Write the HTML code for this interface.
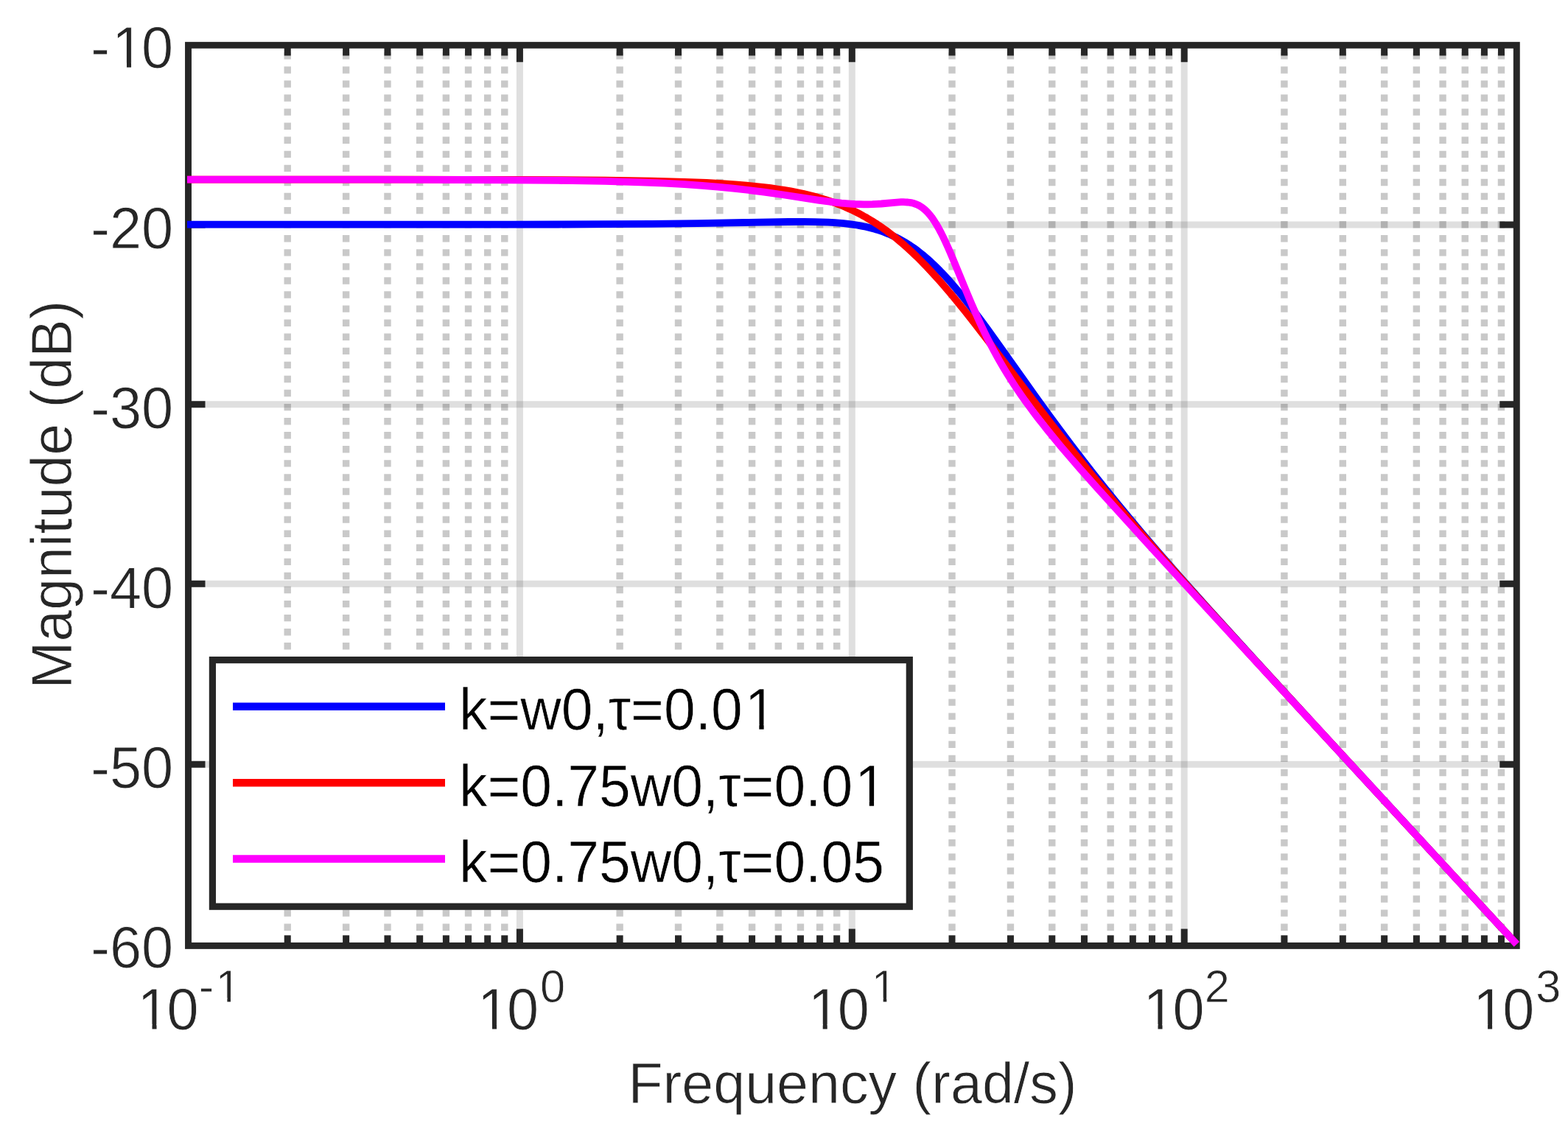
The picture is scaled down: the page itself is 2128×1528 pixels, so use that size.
<!DOCTYPE html>
<html lang="en">
<head>
<meta charset="utf-8">
<title>Bode magnitude plot</title>
<style>
html,body{margin:0;padding:0;background:#fff;}
body{width:2128px;height:1528px;overflow:hidden;}
svg{display:block;}
text{font-family:"Liberation Sans",sans-serif;}
.thin{stroke:#fff;stroke-width:0.8px;stroke-linejoin:round;paint-order:fill stroke;}
.leg{stroke:#fff;stroke-width:0.6px;stroke-linejoin:round;paint-order:fill stroke;}
</style>
</head>
<body>
<svg role="img" aria-label="Bode magnitude plot" width="2128" height="1528" viewBox="0 0 2128 1528">
<rect width="2128" height="1528" fill="#fff"/>
<g id="minor-grid" stroke="#262626" stroke-opacity="0.25" stroke-width="9.4" stroke-dasharray="9.4 9.67" fill="none">
<line x1="390.23" y1="1262.9" x2="390.23" y2="61.3"/>
<line x1="469.63" y1="1262.9" x2="469.63" y2="61.3"/>
<line x1="525.97" y1="1262.9" x2="525.97" y2="61.3"/>
<line x1="569.67" y1="1262.9" x2="569.67" y2="61.3"/>
<line x1="605.37" y1="1262.9" x2="605.37" y2="61.3"/>
<line x1="635.55" y1="1262.9" x2="635.55" y2="61.3"/>
<line x1="661.7" y1="1262.9" x2="661.7" y2="61.3"/>
<line x1="684.77" y1="1262.9" x2="684.77" y2="61.3"/>
<line x1="841.13" y1="1262.9" x2="841.13" y2="61.3"/>
<line x1="920.53" y1="1262.9" x2="920.53" y2="61.3"/>
<line x1="976.87" y1="1262.9" x2="976.87" y2="61.3"/>
<line x1="1020.57" y1="1262.9" x2="1020.57" y2="61.3"/>
<line x1="1056.27" y1="1262.9" x2="1056.27" y2="61.3"/>
<line x1="1086.45" y1="1262.9" x2="1086.45" y2="61.3"/>
<line x1="1112.6" y1="1262.9" x2="1112.6" y2="61.3"/>
<line x1="1135.67" y1="1262.9" x2="1135.67" y2="61.3"/>
<line x1="1292.03" y1="1262.9" x2="1292.03" y2="61.3"/>
<line x1="1371.43" y1="1262.9" x2="1371.43" y2="61.3"/>
<line x1="1427.77" y1="1262.9" x2="1427.77" y2="61.3"/>
<line x1="1471.47" y1="1262.9" x2="1471.47" y2="61.3"/>
<line x1="1507.17" y1="1262.9" x2="1507.17" y2="61.3"/>
<line x1="1537.35" y1="1262.9" x2="1537.35" y2="61.3"/>
<line x1="1563.5" y1="1262.9" x2="1563.5" y2="61.3"/>
<line x1="1586.57" y1="1262.9" x2="1586.57" y2="61.3"/>
<line x1="1742.93" y1="1262.9" x2="1742.93" y2="61.3"/>
<line x1="1822.33" y1="1262.9" x2="1822.33" y2="61.3"/>
<line x1="1878.67" y1="1262.9" x2="1878.67" y2="61.3"/>
<line x1="1922.37" y1="1262.9" x2="1922.37" y2="61.3"/>
<line x1="1958.07" y1="1262.9" x2="1958.07" y2="61.3"/>
<line x1="1988.25" y1="1262.9" x2="1988.25" y2="61.3"/>
<line x1="2014.4" y1="1262.9" x2="2014.4" y2="61.3"/>
<line x1="2037.47" y1="1262.9" x2="2037.47" y2="61.3"/>
</g>
<g id="major-grid" stroke="#262626" stroke-opacity="0.15" stroke-width="9" fill="none">
<line x1="705.4" y1="61.3" x2="705.4" y2="1283.4"/>
<line x1="1156.3" y1="61.3" x2="1156.3" y2="1283.4"/>
<line x1="1607.2" y1="61.3" x2="1607.2" y2="1283.4"/>
<line x1="255.5" y1="305.1" x2="2058.3" y2="305.1"/>
<line x1="255.5" y1="548.7" x2="2058.3" y2="548.7"/>
<line x1="255.5" y1="792.3" x2="2058.3" y2="792.3"/>
<line x1="255.5" y1="1037.3" x2="2058.3" y2="1037.3"/>
</g>
<g id="ticks" stroke="#262626" stroke-width="9" fill="none">
<path d="M390.23 1283.4v-14.2 M390.23 61.3v14.2"/>
<path d="M469.63 1283.4v-14.2 M469.63 61.3v14.2"/>
<path d="M525.97 1283.4v-14.2 M525.97 61.3v14.2"/>
<path d="M569.67 1283.4v-14.2 M569.67 61.3v14.2"/>
<path d="M605.37 1283.4v-14.2 M605.37 61.3v14.2"/>
<path d="M635.55 1283.4v-14.2 M635.55 61.3v14.2"/>
<path d="M661.7 1283.4v-14.2 M661.7 61.3v14.2"/>
<path d="M684.77 1283.4v-14.2 M684.77 61.3v14.2"/>
<path d="M705.4 1283.4v-23 M705.4 61.3v23"/>
<path d="M841.13 1283.4v-14.2 M841.13 61.3v14.2"/>
<path d="M920.53 1283.4v-14.2 M920.53 61.3v14.2"/>
<path d="M976.87 1283.4v-14.2 M976.87 61.3v14.2"/>
<path d="M1020.57 1283.4v-14.2 M1020.57 61.3v14.2"/>
<path d="M1056.27 1283.4v-14.2 M1056.27 61.3v14.2"/>
<path d="M1086.45 1283.4v-14.2 M1086.45 61.3v14.2"/>
<path d="M1112.6 1283.4v-14.2 M1112.6 61.3v14.2"/>
<path d="M1135.67 1283.4v-14.2 M1135.67 61.3v14.2"/>
<path d="M1156.3 1283.4v-23 M1156.3 61.3v23"/>
<path d="M1292.03 1283.4v-14.2 M1292.03 61.3v14.2"/>
<path d="M1371.43 1283.4v-14.2 M1371.43 61.3v14.2"/>
<path d="M1427.77 1283.4v-14.2 M1427.77 61.3v14.2"/>
<path d="M1471.47 1283.4v-14.2 M1471.47 61.3v14.2"/>
<path d="M1507.17 1283.4v-14.2 M1507.17 61.3v14.2"/>
<path d="M1537.35 1283.4v-14.2 M1537.35 61.3v14.2"/>
<path d="M1563.5 1283.4v-14.2 M1563.5 61.3v14.2"/>
<path d="M1586.57 1283.4v-14.2 M1586.57 61.3v14.2"/>
<path d="M1607.2 1283.4v-23 M1607.2 61.3v23"/>
<path d="M1742.93 1283.4v-14.2 M1742.93 61.3v14.2"/>
<path d="M1822.33 1283.4v-14.2 M1822.33 61.3v14.2"/>
<path d="M1878.67 1283.4v-14.2 M1878.67 61.3v14.2"/>
<path d="M1922.37 1283.4v-14.2 M1922.37 61.3v14.2"/>
<path d="M1958.07 1283.4v-14.2 M1958.07 61.3v14.2"/>
<path d="M1988.25 1283.4v-14.2 M1988.25 61.3v14.2"/>
<path d="M2014.4 1283.4v-14.2 M2014.4 61.3v14.2"/>
<path d="M2037.47 1283.4v-14.2 M2037.47 61.3v14.2"/>
<path d="M255.5 305.1h23 M2058.3 305.1h-23"/>
<path d="M255.5 548.7h23 M2058.3 548.7h-23"/>
<path d="M255.5 792.3h23 M2058.3 792.3h-23"/>
<path d="M255.5 1037.3h23 M2058.3 1037.3h-23"/>
</g>
<rect id="axes-box" x="255.5" y="61.3" width="1802.8" height="1222.1" fill="none" stroke="#262626" stroke-width="8.9"/>
<g id="curves" fill="none" stroke-width="9.8" stroke-linejoin="round" stroke-linecap="butt">
<path stroke="#0000ff" d="M254.0 304.7 L317.0 304.7 L380.0 304.7 L443.0 304.7 L506.0 304.7 L569.0 304.7 L632.0 304.6 L695.0 304.6 L758.0 304.5 L821.0 304.2 L884.0 303.8 L947.0 303.1 L1010.0 302.0 L1070.0 301.0 L1091.0 300.9 L1106.0 301.1 L1115.0 301.3 L1124.0 301.7 L1133.0 302.2 L1139.0 302.6 L1145.0 303.2 L1151.0 303.8 L1157.0 304.6 L1163.0 305.5 L1169.0 306.6 L1172.0 307.2 L1175.0 307.8 L1178.0 308.5 L1181.0 309.2 L1184.0 310.0 L1187.0 310.8 L1190.0 311.7 L1193.0 312.7 L1196.0 313.7 L1199.0 314.7 L1202.0 315.9 L1205.0 317.1 L1208.0 318.3 L1211.0 319.7 L1214.0 321.1 L1217.0 322.5 L1220.0 324.1 L1223.0 325.7 L1226.0 327.4 L1229.0 329.2 L1232.0 331.1 L1235.0 333.0 L1238.0 335.0 L1241.0 337.1 L1244.0 339.3 L1247.0 341.6 L1250.0 344.0 L1253.0 346.4 L1256.0 348.9 L1259.0 351.5 L1262.0 354.2 L1265.0 357.0 L1268.0 359.8 L1271.0 362.7 L1274.0 365.7 L1277.0 368.8 L1280.0 371.9 L1283.0 375.1 L1286.0 378.4 L1289.0 381.8 L1292.0 385.2 L1298.0 392.2 L1304.0 399.4 L1310.0 406.9 L1316.0 414.5 L1322.0 422.3 L1331.0 434.3 L1340.0 446.5 L1355.0 467.3 L1406.0 539.0 L1424.0 563.8 L1439.0 584.2 L1454.0 604.2 L1469.0 623.8 L1484.0 643.1 L1499.0 661.9 L1514.0 680.4 L1532.0 702.2 L1550.0 723.6 L1571.0 748.1 L1598.0 779.0 L1640.0 826.1 L1703.0 895.4 L1766.0 964.1 L1829.0 1032.6 L1892.0 1100.9 L1955.0 1169.3 L2018.0 1237.6 L2058.3 1281.3"/>
<path stroke="#ff0000" d="M254.0 243.6 L317.0 243.7 L380.0 243.7 L443.0 243.7 L506.0 243.7 L569.0 243.7 L632.0 243.8 L695.0 243.9 L758.0 244.2 L821.0 244.7 L884.0 245.6 L929.0 246.8 L959.0 248.0 L980.0 249.2 L998.0 250.4 L1013.0 251.6 L1025.0 252.8 L1037.0 254.1 L1046.0 255.2 L1055.0 256.5 L1064.0 257.9 L1073.0 259.4 L1079.0 260.6 L1085.0 261.8 L1091.0 263.1 L1097.0 264.5 L1103.0 266.0 L1109.0 267.6 L1115.0 269.4 L1121.0 271.2 L1127.0 273.2 L1133.0 275.4 L1139.0 277.6 L1145.0 280.1 L1151.0 282.7 L1157.0 285.4 L1160.0 286.9 L1163.0 288.4 L1166.0 289.9 L1169.0 291.5 L1172.0 293.2 L1175.0 294.8 L1178.0 296.6 L1181.0 298.4 L1184.0 300.2 L1187.0 302.1 L1190.0 304.0 L1193.0 306.0 L1196.0 308.1 L1199.0 310.2 L1202.0 312.3 L1205.0 314.5 L1208.0 316.8 L1211.0 319.1 L1214.0 321.5 L1217.0 323.9 L1220.0 326.4 L1223.0 328.9 L1226.0 331.5 L1232.0 336.8 L1238.0 342.4 L1244.0 348.1 L1250.0 354.1 L1256.0 360.2 L1262.0 366.6 L1268.0 373.1 L1274.0 379.7 L1280.0 386.6 L1286.0 393.6 L1292.0 400.7 L1301.0 411.6 L1310.0 422.7 L1322.0 437.9 L1340.0 461.2 L1403.0 544.3 L1427.0 575.5 L1448.0 602.3 L1466.0 624.8 L1484.0 647.0 L1505.0 672.4 L1526.0 697.3 L1550.0 725.2 L1580.0 759.5 L1625.0 809.9 L1688.0 879.2 L1751.0 947.9 L1814.0 1016.3 L1877.0 1084.7 L1940.0 1153.0 L2003.0 1221.3 L2058.3 1281.3"/>
<path stroke="#ff00ff" d="M254.0 243.7 L317.0 243.7 L380.0 243.7 L443.0 243.7 L506.0 243.7 L569.0 243.8 L632.0 244.0 L695.0 244.3 L758.0 244.9 L821.0 245.9 L869.0 247.3 L902.0 248.7 L929.0 250.2 L953.0 251.9 L974.0 253.6 L995.0 255.6 L1016.0 258.0 L1037.0 260.6 L1064.0 264.5 L1112.0 271.8 L1124.0 273.4 L1133.0 274.6 L1142.0 275.6 L1148.0 276.1 L1154.0 276.6 L1160.0 277.0 L1166.0 277.2 L1172.0 277.4 L1178.0 277.3 L1184.0 277.2 L1190.0 276.9 L1196.0 276.5 L1214.0 274.8 L1217.0 274.6 L1220.0 274.4 L1223.0 274.2 L1226.0 274.2 L1229.0 274.3 L1232.0 274.5 L1235.0 274.9 L1238.0 275.4 L1241.0 276.3 L1244.0 277.4 L1247.0 278.8 L1250.0 280.6 L1253.0 282.7 L1256.0 285.3 L1259.0 288.3 L1262.0 291.7 L1265.0 295.6 L1268.0 300.0 L1271.0 304.8 L1274.0 310.0 L1277.0 315.6 L1280.0 321.6 L1283.0 327.9 L1286.0 334.5 L1289.0 341.3 L1292.0 348.4 L1298.0 362.8 L1310.0 392.0 L1316.0 406.4 L1319.0 413.4 L1322.0 420.3 L1325.0 427.1 L1328.0 433.7 L1331.0 440.2 L1334.0 446.6 L1337.0 452.8 L1340.0 458.9 L1343.0 464.8 L1346.0 470.6 L1349.0 476.2 L1352.0 481.7 L1355.0 487.1 L1358.0 492.4 L1361.0 497.5 L1364.0 502.5 L1367.0 507.4 L1370.0 512.2 L1373.0 516.9 L1376.0 521.6 L1379.0 526.1 L1382.0 530.5 L1385.0 534.9 L1391.0 543.5 L1397.0 551.7 L1403.0 559.8 L1409.0 567.7 L1415.0 575.3 L1421.0 582.9 L1430.0 593.9 L1439.0 604.8 L1451.0 618.9 L1466.0 636.2 L1490.0 663.3 L1553.0 732.8 L1616.0 801.5 L1679.0 869.9 L1742.0 938.2 L1805.0 1006.6 L1868.0 1074.9 L1931.0 1143.2 L1994.0 1211.6 L2057.0 1279.9 L2058.3 1281.3"/>
</g>
<g id="ytick-labels" class="thin" font-size="77.5" fill="#262626" text-anchor="end">
<text transform="matrix(1 0 0 1.04 0 -3.7)" x="235.2" y="92.4">-<tspan dx="3.1">1</tspan><tspan dx="-3.1">0</tspan></text>
<text transform="matrix(1 0 0 1.04 0 -13.46)" x="235.2" y="336.57">-20</text>
<text transform="matrix(1 0 0 1.04 0 -23.23)" x="235.2" y="580.74">-30</text>
<text transform="matrix(1 0 0 1.04 0 -33)" x="235.2" y="824.91">-40</text>
<text transform="matrix(1 0 0 1.04 0 -42.76)" x="235.2" y="1069.08">-50</text>
<text transform="matrix(1 0 0 1.04 0 -52.53)" x="235.2" y="1313.25">-60</text>
</g>
<g id="xtick-labels" class="thin" font-size="77.5" fill="#262626">
<text transform="matrix(1 0 0 1.04 0 -55.88)" x="183.5" y="1396.9"><tspan dx="3.1">1</tspan><tspan dx="-3.1">0</tspan><tspan font-size="61.3" dx="0" dy="-35.7">-<tspan dx="2.45">1</tspan></tspan></text>
<text transform="matrix(1 0 0 1.04 0 -55.88)" x="645" y="1396.9"><tspan dx="3.1">1</tspan><tspan dx="-3.1">0</tspan><tspan font-size="61.3" dx="1.75" dy="-35.7">0</tspan></text>
<text transform="matrix(1 0 0 1.04 0 -55.88)" x="1093.7" y="1396.9"><tspan dx="3.1">1</tspan><tspan dx="-3.1">0</tspan><tspan font-size="61.3" dx="2.95" dy="-35.7">1</tspan></text>
<text transform="matrix(1 0 0 1.04 0 -55.88)" x="1548.5" y="1396.9"><tspan dx="3.1">1</tspan><tspan dx="-3.1">0</tspan><tspan font-size="61.3" dx="0" dy="-35.7">2</tspan></text>
<text transform="matrix(1 0 0 1.04 0 -55.88)" x="1996.1" y="1396.9"><tspan dx="3.1">1</tspan><tspan dx="-3.1">0</tspan><tspan font-size="61.3" dx="2" dy="-35.7">3</tspan></text>
</g>
<text id="xlabel" class="thin" x="1157" y="1496.9" font-size="77.2" fill="#262626" text-anchor="middle">Frequency (rad/s)</text>
<text id="ylabel" class="thin" transform="translate(97 671.3) rotate(-90)" font-size="77.1" fill="#262626" text-anchor="middle">Magnitude (dB)</text>
<g id="legend">
<rect x="288.4" y="895.6" width="945.9" height="334.6" fill="#fff" stroke="#262626" stroke-width="9.2"/>
<line x1="316" y1="958.8" x2="604" y2="958.8" stroke="#0000ff" stroke-width="10.5"/>
<text class="leg" transform="matrix(1 0 0 1.04 0 -39.61)" x="623" y="990.2" font-size="76.8" fill="#000">k=w0,τ=0.0<tspan dx="3.07">1</tspan></text>
<line x1="316" y1="1062.2" x2="604" y2="1062.2" stroke="#ff0000" stroke-width="10.5"/>
<text class="leg" transform="matrix(1 0 0 1.04 0 -43.74)" x="623" y="1093.6" font-size="76.8" fill="#000">k=0.75w0,τ=0.0<tspan dx="3.07">1</tspan></text>
<line x1="316" y1="1165.6" x2="604" y2="1165.6" stroke="#ff00ff" stroke-width="10.5"/>
<text class="leg" transform="matrix(1 0 0 1.04 0 -47.86)" x="623" y="1196.6" font-size="76.8" fill="#000">k=0.75w0,τ=0.05</text>
</g>
<g id="digit-trim" fill="#fff">
<rect transform="matrix(1 0 0 1.04 0 -3.7)" x="156.51" y="85.61" width="15.49" height="8.29"/>
<rect transform="matrix(1 0 0 1.04 0 -3.7)" x="178.04" y="85.61" width="14.88" height="8.29"/>
<rect transform="matrix(1 0 0 1.04 0 -55.88)" x="191.01" y="1390.11" width="15.49" height="8.29"/>
<rect transform="matrix(1 0 0 1.04 0 -55.88)" x="212.53" y="1390.11" width="14.88" height="8.29"/>
<rect transform="matrix(1 0 0 1.04 0 -55.88)" x="295.73" y="1355.62" width="12.65" height="7.08"/>
<rect transform="matrix(1 0 0 1.04 0 -55.88)" x="312.99" y="1355.62" width="12.17" height="7.08"/>
<rect transform="matrix(1 0 0 1.04 0 -55.88)" x="652.51" y="1390.11" width="15.49" height="8.29"/>
<rect transform="matrix(1 0 0 1.04 0 -55.88)" x="674.03" y="1390.11" width="14.88" height="8.29"/>
<rect transform="matrix(1 0 0 1.04 0 -55.88)" x="1101.21" y="1390.11" width="15.49" height="8.29"/>
<rect transform="matrix(1 0 0 1.04 0 -55.88)" x="1122.73" y="1390.11" width="14.88" height="8.29"/>
<rect transform="matrix(1 0 0 1.04 0 -55.88)" x="1186.02" y="1355.62" width="12.65" height="7.08"/>
<rect transform="matrix(1 0 0 1.04 0 -55.88)" x="1203.28" y="1355.62" width="12.17" height="7.08"/>
<rect transform="matrix(1 0 0 1.04 0 -55.88)" x="1556.01" y="1390.11" width="15.49" height="8.29"/>
<rect transform="matrix(1 0 0 1.04 0 -55.88)" x="1577.53" y="1390.11" width="14.88" height="8.29"/>
<rect transform="matrix(1 0 0 1.04 0 -55.88)" x="2003.61" y="1390.11" width="15.49" height="8.29"/>
<rect transform="matrix(1 0 0 1.04 0 -55.88)" x="2025.13" y="1390.11" width="14.88" height="8.29"/>
<rect transform="matrix(1 0 0 1.04 0 -39.61)" x="1015.11" y="983.46" width="15.2" height="8.24"/>
<rect transform="matrix(1 0 0 1.04 0 -39.61)" x="1036.61" y="983.46" width="14.6" height="8.24"/>
<rect transform="matrix(1 0 0 1.04 0 -43.74)" x="1164.57" y="1086.86" width="15.2" height="8.24"/>
<rect transform="matrix(1 0 0 1.04 0 -43.74)" x="1186.08" y="1086.86" width="14.6" height="8.24"/>
</g>
</svg>
</body>
</html>
